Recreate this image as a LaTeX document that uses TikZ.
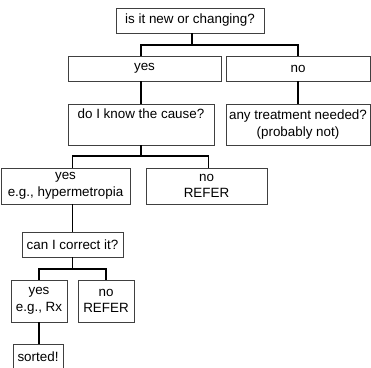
\documentclass[tikz,border=0pt]{standalone}
\usepackage{fontspec}
\setmainfont{Liberation Sans}
\begin{document}
\begin{tikzpicture}[x=1pt,y=1pt,
  box/.style={draw=black!75,line width=0.8pt,rectangle,inner sep=0pt,align=center,
    font=\fontsize{13.4}{16.5}\selectfont},
  conn/.style={draw=black,line width=1.7pt}]
\useasboundingbox (0,0) rectangle (371,-367);
\node[box,minimum width=148,minimum height=25] (top) at (190,-20.5) {is it new or changing?};
\node[box,minimum width=153,minimum height=25] (yes1) at (144.5,-68.5) {yes};
\node[box,minimum width=144,minimum height=25] (no1) at (298,-68.5) {no};
\node[box,minimum width=146,minimum height=41] (know) at (141,-124.5) {do I know the cause?\\\strut};
\node[box,minimum width=144,minimum height=41] (any) at (298,-124.5) {any treatment needed?\\(probably not)};
\node[box,minimum width=129,minimum height=36] (yes2) at (65.5,-186) {yes\\e.g., hypermetropia};
\node[box,minimum width=121,minimum height=36] (no2) at (206.5,-186) {no\\REFER};
\node[box,minimum width=101,minimum height=25] (can) at (72.5,-244.5) {can I correct it?};
\node[box,minimum width=56,minimum height=42] (yes3) at (39,-301) {yes\\e.g., Rx};
\node[box,minimum width=56,minimum height=42] (no3) at (106,-301) {no\\REFER};
\node[box,minimum width=50,minimum height=26] (sorted) at (38,-357) {sorted!};
\coordinate (j1) at (0,-45);
\coordinate (j2) at (0,-156);
\coordinate (j3) at (0,-269);
\draw[conn] ([xshift=2pt]top.south) -- ([xshift=2pt]top.south |- j1);
\draw[conn] (know.north |- yes1.north) -- (know.north |- j1) -- (any.north |- j1) -- (no1.north);
\draw[conn] (know.north |- yes1.south) -- (know.north);
\draw[conn] (no1.south) -- (any.north);
\draw[conn] (know.south) -- (know.south |- j2);
\draw[conn] (can.north |- yes2.north) -- (can.north |- j2) -- ([xshift=2pt]no2.north |- j2) -- ([xshift=2pt]no2.north);
\draw[conn] (can.north |- yes2.south) -- (can.north);
\draw[conn] (can.south) -- (can.south |- j3);
\draw[conn] (yes3.north) -- (yes3.north |- j3) -- (no3.north |- j3) -- (no3.north);
\draw[conn] (yes3.south) -- (yes3.south |- sorted.north);
\end{tikzpicture}
\end{document}
